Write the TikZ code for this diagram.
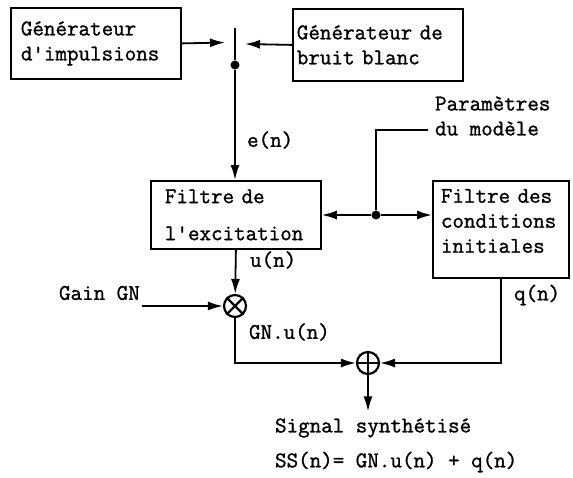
\documentclass[tikz,border=0pt]{standalone}
\usepackage{fontspec}
\setmonofont{Latin Modern Mono}[FakeBold=1.2]
\usepackage{tikz}
\usetikzlibrary{arrows.meta,positioning,shapes}

\begin{document}
\begin{tikzpicture}[x=0.5pt,y=-0.5pt,
  every node/.style={font=\fontsize{11.2}{12.5}\selectfont\ttfamily},
  bloc/.style={draw,line width=0.9pt,anchor=north west,align=left},
  trait/.style={line width=0.9pt},
  fl/.style={line width=0.9pt,-{Latex[length=7.5pt,width=4.5pt]}},
  op/.style={draw,circle,line width=1.1pt,minimum size=11pt,inner sep=0pt},
  pt/.style={circle,fill,inner sep=1.6pt}]
\useasboundingbox (0,0) rectangle (573,477);

% les blocs
\node[bloc,inner xsep=5pt,text width=75pt,minimum height=35.5pt] (gi) at (10,7) {Générateur\\d'impulsions};
\node[bloc,inner xsep=2pt,text width=81pt,minimum height=36pt] (gb) at (292,8) {Générateur de\\bruit blanc};
\node[bloc,inner xsep=7pt,text width=71pt,minimum height=34pt] (fe) at (150,180) {Filtre de\\[6pt]l'excitation};
\node[bloc,inner xsep=4pt,text width=60pt,minimum height=48.5pt] (fc) at (432,180) {Filtre des\\conditions\\initiales\\[-4pt]~};

% commutateur
\coordinate (sw) at (235,28);
\coordinate (sa) at (225,42.5);
\coordinate (sb) at (245,44);
\node[pt] (cm) at (235,65) {};
\draw[trait] (sw) -- (cm);
\draw[fl] (gi.east) -- (sa);
\draw[fl] (gb.west) -- (sb);
\draw[fl] (cm) -- (cm |- fe.north);
\node[anchor=west] (en) at (240,140) {e(n)};

% parametres du modele
\node[pt] (jn) at (376,215) {};
\node[anchor=west,align=left] (pm) at (428,116) {Paramètres\\du modèle};
\coordinate (pk) at (428,130);
\draw[trait] (jn) |- (pk);
\draw[fl] (jn) -- (jn -| fe.east);
\draw[fl] (jn) -- (jn -| fc.west);

% gain
\node[anchor=west] (un) at (243,260) {u(n)};
\node[op] (mul) at (235,306) {};
\draw[line width=1.1pt] (mul.north west) -- (mul.south east) (mul.north east) -- (mul.south west);
\draw[fl] (fe.south) -- (mul);
\node[anchor=west] (gn) at (52,293) {Gain GN};
\coordinate (ga) at (142,306);
\draw[fl] (ga) -- (mul);
\node[anchor=west] (gu) at (242,332) {GN.u(n)};

% sommateur
\node[op] (add) at (368,363) {};
\draw[line width=1.1pt] (add.north) -- (add.south) (add.west) -- (add.east);
\draw[fl] (mul) |- (add);
\draw[fl] (fc.south) |- (add);
\node[anchor=west] (qn) at (507,295) {q(n)};

% sortie
\node[anchor=west] (sig) at (268,428) {Signal synthétisé};
\node[anchor=west] (ss) at (268,462) {SS(n)= GN.u(n) + q(n)};
\draw[fl] (add) -- (add |- sig.north);
\end{tikzpicture}
\end{document}
